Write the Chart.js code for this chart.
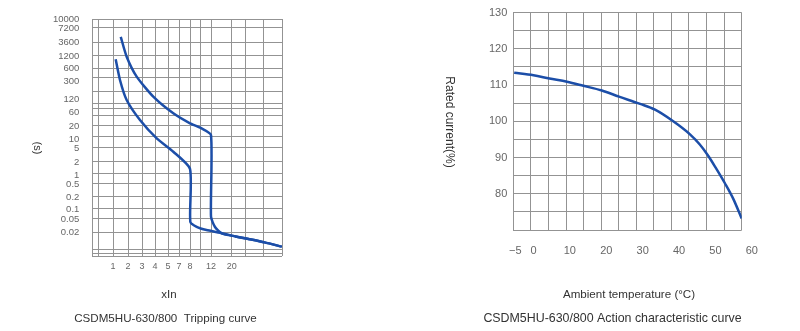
<!DOCTYPE html>
<html>
<head>
<meta charset="utf-8">
<script src="https://cdn.jsdelivr.net/npm/chart.js@4.4.0/dist/chart.umd.min.js"></script>
<style>
body { margin: 0; background: #fff; width: 800px; height: 331px; overflow: hidden; position: relative; }
canvas { position: absolute; top: 0; }
#tripChart { left: 0; }
#tempChart { left: 400px; }
</style>
</head>
<body>
<canvas id="tripChart" width="400" height="331"></canvas>
<canvas id="tempChart" width="400" height="331"></canvas>
<script>
// tripping curve: x = multiple of In, y = seconds
var lowerX = [1.13, 1.38, 1.88, 2.83, 4.12, 5.88, 8.0, 8.05, 9.1, 11.0, 15.0, 22, 31, 45, 69];
var lowerY = [1000, 317, 118, 32, 10.5, 4.0, 1.4, 0.042, 0.030, 0.024, 0.020, 0.0155, 0.0128, 0.0103, 0.0077];
var upperX = [1.43, 1.88, 2.57, 3.85, 5.88, 8.0, 10.0, 12.0, 12.0, 13.2, 15.6, 22, 31, 45, 69];
var upperY = [4700, 1150, 380, 139, 54, 24.7, 17.7, 12.5, 0.06, 0.030, 0.0192, 0.0155, 0.0128, 0.0103, 0.0077];

var tripYTicks = [10000, 7200, 3600, 1200, 600, 300, 120, 60, 20, 10, 5, 2, 1, 0.5, 0.2, 0.1, 0.05, 0.02];
var tripXTicks = [1, 2, 3, 4, 5, 7, 8, 12, 20];

// action characteristic: x = ambient temperature (C), y = rated current (%)
var tempX = [-5.3, 0, 4.4, 9.2, 13.7, 18.8, 23.5, 29.3, 33.4, 38.4, 43.0, 45.7, 48.0, 50.3, 52.6, 54.9, 57.2];
var tempY = [113.4, 112.7, 111.8, 110.9, 109.8, 108.5, 106.8, 104.8, 103.2, 100.0, 96.4, 93.6, 90.5, 86.8, 82.9, 78.6, 73.2];
var tempXTicks = [-5, 0, 10, 20, 30, 40, 50, 60];

// axis layout of the printed tripping grid (units = px inside plot)
var yTickPos = [237, 227.3, 214, 200, 187.7, 175, 156.3, 144, 130, 116.7, 107.7, 93.7, 81, 72, 58.7, 46.7, 36.7, 23.3];
var yGridPos = [0, 2.5, 7, 24, 37.5, 47.5, 59, 72.5, 82.5, 94.5, 108.5, 119.5, 131, 140.5, 147.5, 152.5, 164.5, 179, 188, 200, 214, 228.5, 237];
var xTickPos = [21, 36, 50, 63, 76, 87, 98, 119, 139.7];
var xGridPos = [0, 6, 21, 36, 50, 63, 76, 87, 98, 108.5, 119, 139.7, 153, 171, 190];

var gridColor = '#939393';
var lineColor = '#1c4ea8';
var tickColor = '#666';

Chart.defaults.font.family = '"Liberation Sans", Arial, sans-serif';

function logMap(v, vals, pos) {
  var i = 0;
  while (i < vals.length - 2 && v > vals[i + 1]) i++;
  var a = Math.log(vals[i]), b = Math.log(vals[i + 1]);
  return pos[i] + (Math.log(v) - a) / (b - a) * (pos[i + 1] - pos[i]);
}

var yAsc = tripYTicks.slice().reverse();
var yPosAsc = yTickPos.slice().reverse();

function tripPoints(xs, ys) {
  return xs.map(function (x, i) {
    return { x: logMap(x, tripXTicks, xTickPos), y: logMap(ys[i], yAsc, yPosAsc) };
  });
}

function textPlugin(items) {
  return {
    id: 'texts',
    afterDraw: function (chart) {
      var c = chart.ctx;
      items.forEach(function (t) {
        c.save();
        c.font = t.size + 'px "Liberation Sans", Arial, sans-serif';
        c.fillStyle = '#333';
        c.textAlign = 'center';
        c.textBaseline = 'middle';
        c.translate(t.x, t.y);
        if (t.rot) c.rotate(t.rot);
        c.fillText(t.text, 0, 0);
        c.restore();
      });
    }
  };
}

function fixW(w) { return function (s) { s.width = w; }; }
function fixH(h) { return function (s) { s.height = h; }; }

new Chart(document.getElementById('tripChart'), {
  type: 'line',
  data: {
    datasets: [
      { data: tripPoints(lowerX, lowerY), borderColor: lineColor, borderWidth: 2.5, pointRadius: 0, tension: 0.2, fill: false },
      { data: tripPoints(upperX, upperY), borderColor: lineColor, borderWidth: 2.5, pointRadius: 0, tension: 0.2, fill: false }
    ]
  },
  options: {
    responsive: false,
    animation: false,
    devicePixelRatio: 1,
    layout: { padding: { left: 0, right: 118, top: 19, bottom: 0 } },
    plugins: { legend: { display: false }, tooltip: { enabled: false } },
    scales: {
      x: {
        type: 'linear', min: 0, max: 190,
        afterBuildTicks: function (s) { s.ticks = xGridPos.map(function (v) { return { value: v }; }); },
        afterFit: fixH(75),
        grid: { color: gridColor, drawTicks: false },
        border: { display: false },
        ticks: {
          autoSkip: false, maxRotation: 0, padding: 5, color: tickColor, font: { size: 9 },
          callback: function (v) { var i = xTickPos.indexOf(v); return i < 0 ? '' : String(tripXTicks[i]); }
        }
      },
      y: {
        type: 'linear', min: 0, max: 237,
        afterBuildTicks: function (s) { s.ticks = yGridPos.map(function (v) { return { value: v }; }); },
        afterFit: fixW(0),
        grid: { color: gridColor, drawTicks: false },
        border: { display: false },
        ticks: { display: false }
      },
      yl: {
        type: 'linear', position: 'left', min: 0, max: 237,
        afterBuildTicks: function (s) { s.ticks = yTickPos.map(function (v) { return { value: v }; }); },
        afterFit: fixW(92),
        grid: { display: false },
        border: { display: false },
        ticks: {
          autoSkip: false, padding: 4.7, color: tickColor, font: { size: 9.5 },
          callback: function (v, i) { return String(tripYTicks[i]); }
        }
      }
    }
  },
  plugins: [textPlugin([
    { text: '(s)', x: 36.7, y: 148, size: 11, rot: Math.PI / 2 },
    { text: 'xIn', x: 169, y: 295, size: 11.5 },
    { text: 'CSDM5HU-630/800  Tripping curve', x: 165.5, y: 318.3, size: 11.6 }
  ])]
});

new Chart(document.getElementById('tempChart'), {
  type: 'line',
  data: {
    datasets: [{
      data: tempX.map(function (x, i) { return { x: x, y: tempY[i] }; }),
      xAxisID: 'x', yAxisID: 'y',
      borderColor: lineColor, borderWidth: 2.5, pointRadius: 0,
      cubicInterpolationMode: 'monotone', fill: false
    }]
  },
  options: {
    responsive: false,
    animation: false,
    devicePixelRatio: 1,
    layout: { padding: { left: 0, right: 58.3, top: 10, bottom: 0 } },
    plugins: { legend: { display: false }, tooltip: { enabled: false } },
    scales: {
      x: {
        type: 'linear', min: -5.54, max: 57.21,
        afterBuildTicks: function (s) { s.ticks = tempXTicks.map(function (v) { return { value: v }; }); },
        afterFit: fixH(101),
        grid: { display: false },
        border: { display: false },
        ticks: {
          autoSkip: false, maxRotation: 0, padding: 6, color: tickColor, font: { size: 11 },
          callback: function (v) { return String(v).replace('-', '\u2212'); }
        }
      },
      xg: {
        type: 'linear', position: 'bottom', min: 0, max: 13,
        afterFit: fixH(0),
        grid: { color: gridColor, drawTicks: false },
        border: { display: false },
        ticks: { display: false, stepSize: 1 }
      },
      y: {
        type: 'linear', min: 70, max: 130,
        afterFit: fixW(113.3),
        grid: { color: gridColor, drawTicks: false },
        border: { display: false },
        ticks: {
          stepSize: 5, padding: 6, color: tickColor, font: { size: 11 },
          callback: function (v) { return (v % 10 === 0 && v >= 80) ? String(v) : ''; }
        }
      }
    }
  },
  plugins: [textPlugin([
    { text: 'Rated current(%)', x: 49, y: 122, size: 12, rot: Math.PI / 2 },
    { text: 'Ambient temperature (\u00B0C)', x: 229, y: 295, size: 11.6 },
    { text: 'CSDM5HU-630/800 Action characteristic curve', x: 212.5, y: 318.3, size: 12.4 }
  ])]
});
</script>
</body>
</html>
